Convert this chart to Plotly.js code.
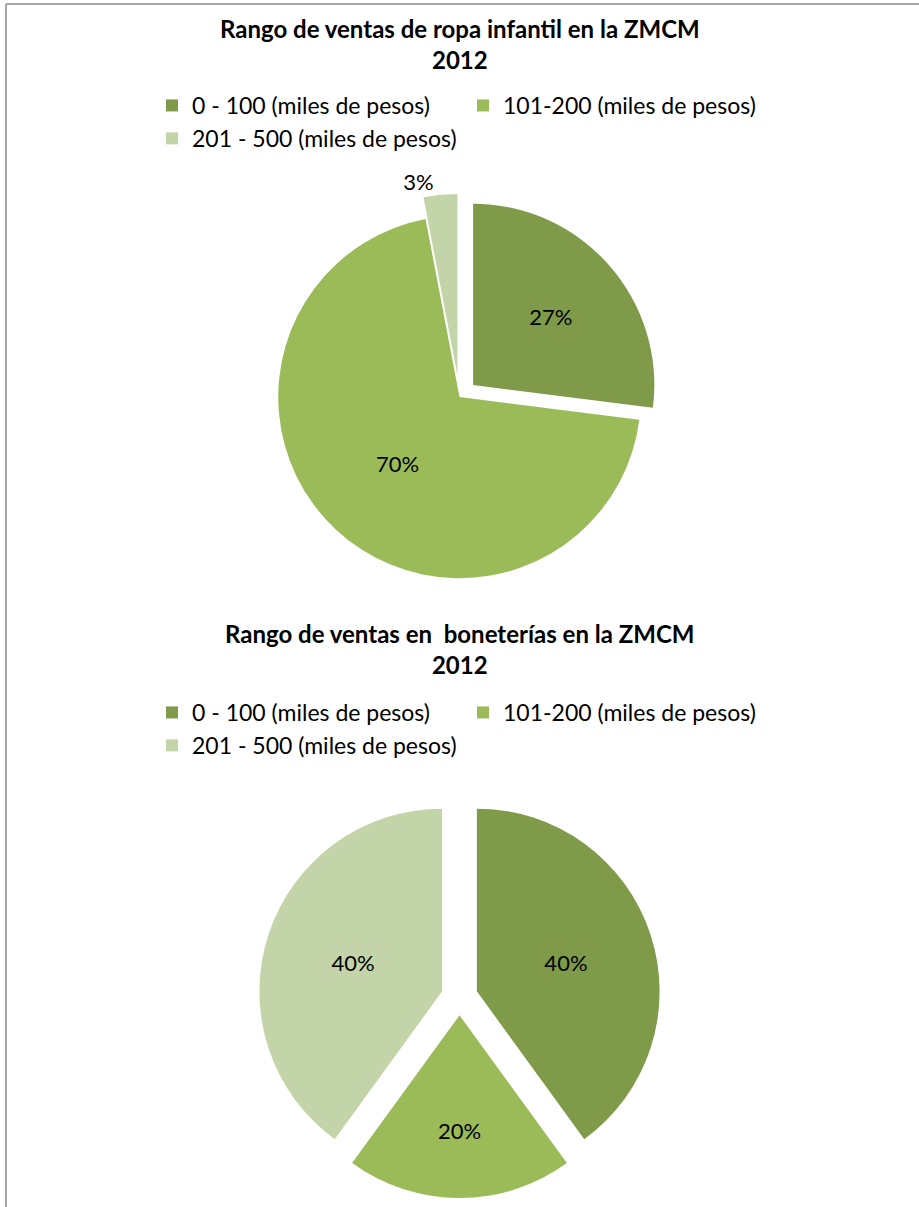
<!DOCTYPE html>
<html>
<head>
<meta charset="utf-8">
<script src="https://cdn.plot.ly/plotly-3.0.1.min.js"></script>
<style>
  html, body { margin: 0; padding: 0; background: #fff; overflow: hidden; }
  #chart1 { width: 919px; height: 606px; }
  #chart2 { width: 919px; height: 601px; }
</style>
</head>
<body>
<div id="chart1"></div>
<div id="chart2"></div>
<script>
// ---- data ----
const categories = ["0 - 100 (miles de pesos)", "101-200 (miles de pesos)", "201 - 500 (miles de pesos)"];
const ropaInfantil = [27, 70, 3];
const boneterias = [40, 20, 40];
const title1 = "Rango de ventas de ropa infantil en la ZMCM";
const title2 = "Rango de ventas en  boneterías en la ZMCM";
const year = "2012";

const colors = ["#7F9A48", "#9BBB59", "#C3D5A8"];
const FONT = "Lato, 'Open Sans', sans-serif";
const BORDER = "#A6A6A6";

function makeLayout(H, title, legendTop, titleTop, borderTop) {
  const py = px => 1 - px / H;
  return {
    width: 919,
    height: H,
    margin: { l: 0, r: 0, t: 0, b: 0, autoexpand: false },
    paper_bgcolor: "#fff",
    showlegend: true,
    legend: {
      orientation: "h",
      xanchor: "left",
      yanchor: "top",
      x: 152 / 919,
      y: py(legendTop),
      font: { family: FONT, size: 23, color: "#000" },
      entrywidth: 266,
      entrywidthmode: "pixels",
      bgcolor: "rgba(0,0,0,0)",
      traceorder: "normal"
    },
    annotations: [
      { text: "<b>" + title + "</b><br><b>" + year + "</b>", xref: "paper", yref: "paper",
        x: 0.5, y: py(titleTop), xanchor: "center", yanchor: "top", showarrow: false,
        font: { family: FONT, size: 24, color: "#000" } }
    ],
    shapes: [
      { type: "line", xref: "paper", yref: "paper", x0: 6 / 919, x1: 1, y0: py(borderTop), y1: py(borderTop),
        line: { color: BORDER, width: 2 } },
      { type: "line", xref: "paper", yref: "paper", x0: 6 / 919, x1: 6 / 919, y0: py(borderTop), y1: 0,
        line: { color: BORDER, width: 2 } }
    ]
  };
}

// ---- chart 1 ----
const H1 = 606;
const py1 = px => 1 - px / H1;
const trace1 = {
  type: "pie",
  labels: categories,
  values: ropaInfantil,
  sort: false,
  direction: "clockwise",
  rotation: 0,
  pull: [0.1, 0, 0.12],
  marker: { colors: colors, line: { width: 0 } },
  textinfo: "percent",
  textposition: ["inside", "inside", "outside"],
  insidetextorientation: "horizontal",
  textfont: { family: FONT, size: 22, color: "#000" },
  outsidetextfont: { family: FONT, size: 22, color: "#000" },
  domain: { x: [0.05, 0.95], y: [py1(600), py1(194)] },
  hoverinfo: "label+percent"
};
const layout1 = makeLayout(H1, title1, 84, 12, 4);

// ---- chart 2 ----
const H2 = 601;
const py2 = px => 1 - px / H2;
const trace2 = {
  type: "pie",
  labels: categories,
  values: boneterias,
  sort: false,
  direction: "clockwise",
  rotation: 0,
  pull: [0.1, 0.1, 0.1],
  marker: { colors: colors, line: { width: 0 } },
  textinfo: "percent",
  textposition: "inside",
  insidetextorientation: "horizontal",
  textfont: { family: FONT, size: 22, color: "#000" },
  domain: { x: [0.05, 0.95], y: [py2(592), py2(190)] },
  hoverinfo: "label+percent"
};
const layout2 = makeLayout(H2, title2, 85, 11, -5);

Plotly.newPlot("chart1", [trace1], layout1, { displayModeBar: false, staticPlot: true });
Plotly.newPlot("chart2", [trace2], layout2, { displayModeBar: false, staticPlot: true });
</script>
</body>
</html>
